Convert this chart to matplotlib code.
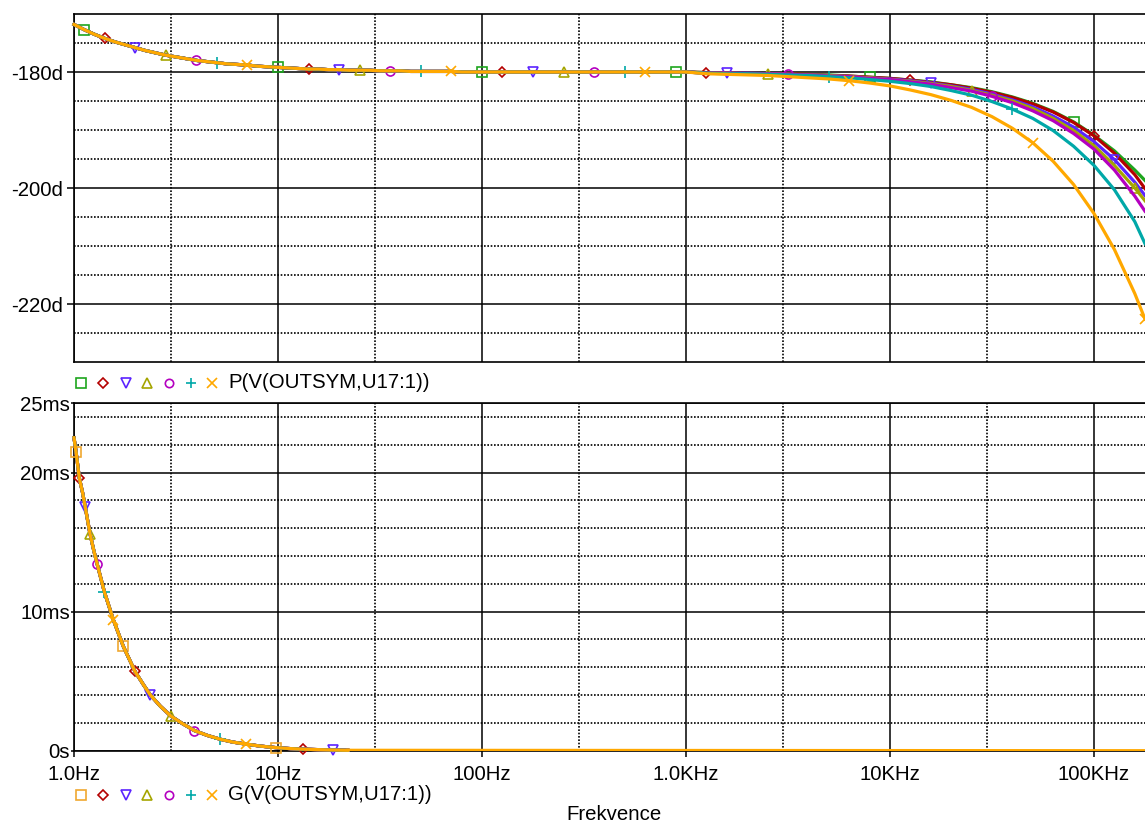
import numpy as np
import matplotlib
matplotlib.use("Agg")
import matplotlib.pyplot as plt
from matplotlib.lines import Line2D
from matplotlib.ticker import FixedLocator, FixedFormatter, NullFormatter

plt.rcParams['font.family'] = ['Liberation Sans', 'DejaVu Sans']
plt.rcParams['font.size'] = 14.7

# ---- phase plot data (degrees) ----
# sample points 1 Hz .. 1 kHz, 20 per decade: all traces coincide here
freq_lo = np.logspace(0, 3, 61)
phase_lo = [-171.8, -172.7, -173.5, -174.2, -174.8, -175.3, -175.8, -176.3,
            -176.7, -177.1, -177.4, -177.7, -178.0, -178.2, -178.4, -178.6,
            -178.7, -178.8, -179.0, -179.1, -179.2, -179.3, -179.4, -179.5,
            -179.5, -179.6, -179.6, -179.7, -179.7, -179.7, -179.8, -179.8,
            -179.8, -179.9, -179.9, -179.9, -179.9, -179.9,
            -180.0, -180.0, -180.0, -180.0, -180.0, -180.0, -180.0, -180.0,
            -180.0, -180.0, -180.0, -180.0, -180.0, -180.0, -180.0, -180.0,
            -180.0, -180.0, -180.0, -180.0, -180.0, -180.0, -180.0]

# sample points above 1 kHz where the traces split
freq_hi = [1259, 1585, 1995, 2512, 3162, 3981, 5012, 6310, 7943, 10000,
           12589, 15849, 19953, 25119, 31623, 39811, 50119, 63096, 79433,
           100000, 125893, 158489, 177828]
phase_green = [-180.1, -180.2, -180.2, -180.3, -180.3, -180.4, -180.5, -180.7,
               -180.9, -181.1, -181.4, -181.7, -182.2, -182.7, -183.4, -184.3,
               -185.4, -186.8, -188.6, -190.9, -193.6, -196.9, -198.7]
phase_red = [-180.1, -180.2, -180.2, -180.3, -180.3, -180.4, -180.6, -180.7,
             -180.9, -181.1, -181.4, -181.8, -182.2, -182.8, -183.5, -184.4,
             -185.5, -186.9, -188.7, -191.0, -194.0, -197.7, -200.1]
phase_blue = [-180.2, -180.2, -180.2, -180.3, -180.4, -180.5, -180.6, -180.8,
              -181.0, -181.2, -181.5, -181.9, -182.4, -183.0, -183.8, -184.8,
              -186.0, -187.6, -189.5, -192.0, -195.1, -199.0, -201.3]
phase_olive = [-180.2, -180.2, -180.3, -180.3, -180.4, -180.5, -180.6, -180.8,
               -181.0, -181.3, -181.6, -182.0, -182.5, -183.2, -184.0, -185.0,
               -186.3, -188.0, -190.1, -192.7, -196.1, -200.0, -202.2]
phase_magenta = [-180.2, -180.2, -180.3, -180.3, -180.4, -180.5, -180.7, -180.8,
                 -181.1, -181.3, -181.7, -182.1, -182.7, -183.3, -184.2, -185.3,
                 -186.7, -188.4, -190.6, -193.3, -196.9, -201.4, -204.0]
phase_cyan = [-180.2, -180.3, -180.3, -180.4, -180.5, -180.6, -180.8, -181.0,
              -181.3, -181.6, -182.0, -182.5, -183.2, -184.0, -185.1, -186.4,
              -188.0, -190.1, -192.8, -196.1, -200.3, -205.8, -209.6]
phase_orange = [-180.3, -180.4, -180.5, -180.6, -180.8, -181.0, -181.2, -181.5,
                -181.9, -182.4, -183.1, -183.9, -184.9, -186.1, -187.7, -189.7,
                -192.2, -195.4, -199.4, -204.4, -210.6, -218.2, -222.6]

# ---- group delay data (ms) ----
freq_gd = [1.0, 1.023, 1.062, 1.1, 1.136, 1.198, 1.25, 1.3, 1.41, 1.56, 1.745,
           1.99, 2.2, 2.37, 2.65, 2.98, 3.4, 3.89, 4.5, 5.19, 6.0, 7.0, 8.2,
           9.77, 11.5, 13.3, 15.5, 18.5, 22.0]
gd_ms = [22.5, 21.5, 19.6, 18.6, 17.5, 15.6, 14.4, 13.4, 11.4, 9.4, 7.5,
         5.7, 4.7, 4.0, 3.2, 2.5, 1.95, 1.45, 1.1, 0.83, 0.62, 0.47, 0.33,
         0.22, 0.15, 0.11, 0.08, 0.05, 0.03]
freq_gd_tail = [22.0, 177828]
gd_tail = [0.03, 0.0]

markers = ['s', 'D', 'v', '^', 'o', '+', 'x']
colors_p = ['#1ea51e', '#b40000', '#5b23ff', '#a5a500', '#b400c0', '#00a8a8', '#ffa800']
colors_g = ['#f0a830', '#b40000', '#5b23ff', '#a5a500', '#b400c0', '#00a8a8', '#ffa800']
msizes = [7, 5.5, 7.5, 7.5, 6.5, 8, 7.5]
phase_hi = [phase_green, phase_red, phase_blue, phase_olive, phase_magenta,
            phase_cyan, phase_orange]

W, H = 1145, 825
fig = plt.figure(figsize=(W / 100, H / 100), dpi=100)
ax1 = fig.add_axes([74 / W, 1 - 362 / H, 1 - 74 / W, 348 / H])
ax2 = fig.add_axes([74 / W, 1 - 750.7 / H, 1 - 74 / W, 347.7 / H])


def marks(ax, i):
    # markers spaced along the trace, every trace shifted by one slot
    diag = np.hypot(ax.bbox.width, ax.bbox.height)
    return ((10.0 + i * 28.6) / diag, 200.0 / diag)


for i in range(7):
    f = np.concatenate([freq_lo, freq_hi])
    p = np.concatenate([phase_lo, phase_hi[i]])
    ax1.plot(f, p, color=colors_p[i], lw=2.3, marker=markers[i], ms=msizes[i],
             mfc='none', mew=1.2, markevery=marks(ax1, i), clip_on=False,
             zorder=3 + i)

for i in range(7):
    ax2.plot(freq_gd, gd_ms, color=colors_g[i], lw=2.3, marker=markers[i],
             ms=msizes[i], mfc='none', mew=1.2, markevery=marks(ax2, i),
             clip_on=False, zorder=3 + i)
ax2.plot(freq_gd_tail, gd_tail, color=colors_g[6], lw=2.3, zorder=9)

for ax in (ax1, ax2):
    ax.set_xscale('log')
    ax.set_xlim(1, 177828)
    ax.xaxis.set_major_locator(FixedLocator([1, 10, 100, 1e3, 1e4, 1e5]))
    ax.xaxis.set_minor_locator(FixedLocator([3, 30, 300, 3e3, 3e4]))
    ax.xaxis.set_minor_formatter(NullFormatter())
    ax.grid(which='major', color='black', lw=1.1, ls='-')
    ax.grid(which='minor', color='black', lw=1.2, ls=(0, (1, 1)))
    ax.set_axisbelow(True)
    ax.spines['right'].set_visible(False)
    for s in ('left', 'top', 'bottom'):
        ax.spines[s].set_linewidth(1.2)
    ax.tick_params(which='minor', length=0)

ax1.set_ylim(-230, -170)
ax1.yaxis.set_major_locator(FixedLocator([-220, -200, -180]))
ax1.yaxis.set_major_formatter(FixedFormatter(['-220d', '-200d', '-180d']))
ax1.yaxis.set_minor_locator(FixedLocator([-225, -215, -210, -205, -195, -190,
                                          -185, -175]))
ax1.tick_params(axis='y', which='major', length=5, width=1.1, pad=3)
ax1.tick_params(axis='x', which='major', length=0, labelbottom=False)

ax2.set_ylim(0, 25)
ax2.yaxis.set_major_locator(FixedLocator([0, 10, 20, 25]))
ax2.yaxis.set_major_formatter(FixedFormatter(['0s', '10ms', '20ms', '25ms']))
ax2.yaxis.set_minor_locator(FixedLocator([2, 4, 6, 8, 12, 14, 16, 18, 22, 24]))
ax2.tick_params(axis='y', which='major', length=2.5, width=1.1, pad=0.5)
ax2.tick_params(axis='x', which='major', length=4, width=1.1, pad=6)
ax2.xaxis.set_major_formatter(FixedFormatter(['1.0Hz', '10Hz', '100Hz',
                                              '1.0KHz', '10KHz', '100KHz']))

# trace legends
leg_x = [81, 103, 126, 147, 169, 191, 212]
for y_px, cols, label in ((383, colors_p, 'P(V(OUTSYM,U17:1))'),
                          (795, colors_g, 'G(V(OUTSYM,U17:1))')):
    for i in range(7):
        fig.add_artist(Line2D([leg_x[i] / W], [1 - y_px / H],
                              transform=fig.transFigure, ls='none',
                              marker=markers[i], ms=msizes[i] - 0.5,
                              mfc='none', mec=cols[i], mew=1.2))
    fig.text(228 / W, 1 - y_px / H, label, ha='left', va='center')

fig.text(614 / W, 1 - 815 / H, 'Frekvence', ha='center', va='center')

fig.savefig('out.png', dpi=100, facecolor='white')
